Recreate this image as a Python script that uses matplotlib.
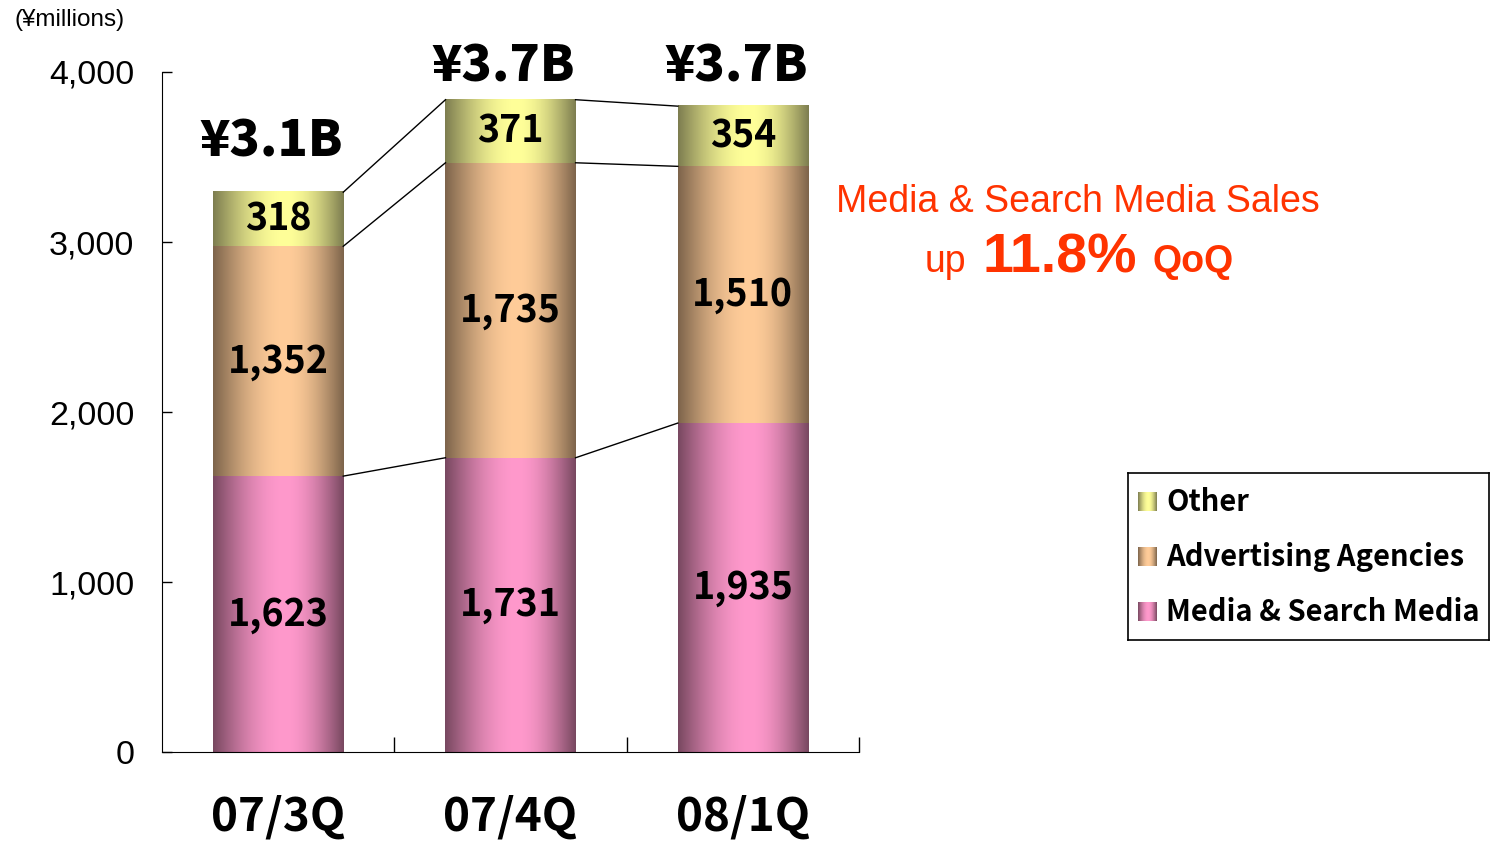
import numpy as np
import matplotlib
matplotlib.use("Agg")
import matplotlib.pyplot as plt
from matplotlib.colors import to_rgb

# data
quarters = ["07/3Q", "07/4Q", "08/1Q"]
media = [1623, 1731, 1935]
agencies = [1352, 1735, 1510]
other = [318, 371, 354]
totals_txt = ["¥3.1B", "¥3.7B", "¥3.7B"]
series_names = ["Media & Search Media", "Advertising Agencies", "Other"]

light = ["#FF99CC", "#FFCC99", "#FFFF99"]
dark = ["#784860", "#7D644B", "#7D7D50"]

JP = ["Noto Sans CJK JP", "DejaVu Sans"]
AR = ["Liberation Sans", "DejaVu Sans"]


def shade(lo, hi, n=200, peak=0.55):
    t = np.linspace(0, 1, n)
    b = np.where(t < peak, np.sin(np.pi / 2 * t / peak),
                 np.sin(np.pi / 2 * (1 - t) / (1 - peak)))
    lo, hi = np.array(to_rgb(lo)), np.array(to_rgb(hi))
    img = lo + (hi - lo) * b[:, None]
    return img[None, :, :]


fig = plt.figure(figsize=(14.95, 8.43), dpi=100)
ax = fig.add_axes([0.1084, 0.1079, 0.4662, 0.8067])

x = np.arange(len(quarters))
width = 0.56
stack = [media, agencies, other]
bottoms = np.zeros(len(quarters))
tops = []
for k, vals in enumerate(stack):
    bars = ax.bar(x, vals, width, bottom=bottoms, color="none", edgecolor="none")
    for i, b in enumerate(bars):
        x0, x1 = b.get_x(), b.get_x() + b.get_width()
        y0, y1 = b.get_y(), b.get_y() + b.get_height()
        ax.imshow(shade(dark[k], light[k]), extent=(x0, x1, y0, y1),
                  aspect="auto", interpolation="bilinear", zorder=2)
        ax.text(x[i], (y0 + y1) / 2, f"{vals[i]:,}", ha="center", va="center",
                fontsize=27, fontweight="bold", family=JP, zorder=4)
    bottoms = bottoms + np.array(vals)
    tops.append(bottoms.copy())

# connecting lines between bars
for lvl in tops:
    for i in range(len(x) - 1):
        ax.plot([x[i] + width / 2, x[i + 1] - width / 2], [lvl[i], lvl[i + 1]],
                color="black", lw=1, zorder=3)

# totals on top
for i in range(len(x)):
    ax.text(x[i] - 0.03, min(tops[-1][i] + 300, 4035), totals_txt[i],
            ha="center", va="center", fontsize=36, fontweight="heavy", family=JP,
            clip_on=False)

ax.set_xlim(-0.5, 2.5)
ax.set_ylim(0, 4000)
ax.spines["top"].set_visible(False)
ax.spines["right"].set_visible(False)
ax.set_yticks([0, 1000, 2000, 3000, 4000])
ax.set_yticklabels([f"{v:,}" for v in [0, 1000, 2000, 3000, 4000]],
                   fontsize=24.5, family=AR)
ax.tick_params(axis="y", direction="in", length=7, width=1, pad=20)
ax.set_xticks([0.5, 1.5, 2.5])
ax.set_xticklabels([])
ax.tick_params(axis="x", direction="in", length=11, width=1)
for i, q in enumerate(quarters):
    ax.text(x[i], -385, q, ha="center", va="center", fontsize=33,
            fontweight="bold", family=JP)

fig.text(0.010, 0.976, "(¥millions)", fontsize=17.5, family=AR, va="center")

# annotation
red = "#FF3300"
fig.text(0.721, 0.748, "Media & Search Media Sales", color=red, fontsize=27,
         family=AR, ha="center", va="baseline")
fig.text(0.6187, 0.677, "up", color=red, fontsize=27, family=AR, va="baseline")
fig.text(0.6569, 0.677, "11.8%", color=red, fontsize=40, family=AR,
         fontweight="bold", va="baseline")
fig.text(0.7706, 0.677, "QoQ", color=red, fontsize=27, family=AR,
         fontweight="bold", va="baseline")

# legend drawn by hand
lg = fig.add_axes([0.7545, 0.2408, 0.2415, 0.198])
lg.set_xticks([])
lg.set_yticks([])
for s in lg.spines.values():
    s.set_linewidth(1.2)
ys = [0.168, 0.497, 0.826]
for k, name in enumerate(series_names):
    lg.imshow(shade(dark[k], light[k]), extent=(0.028, 0.078, ys[k] - 0.054, ys[k] + 0.054),
              aspect="auto", interpolation="bilinear")
    lg.text(0.105, ys[k], name, fontsize=21, fontweight="bold", family=JP, va="center")
lg.set_xlim(0, 1)
lg.set_ylim(0, 1)

fig.savefig("out.png", dpi=100)
